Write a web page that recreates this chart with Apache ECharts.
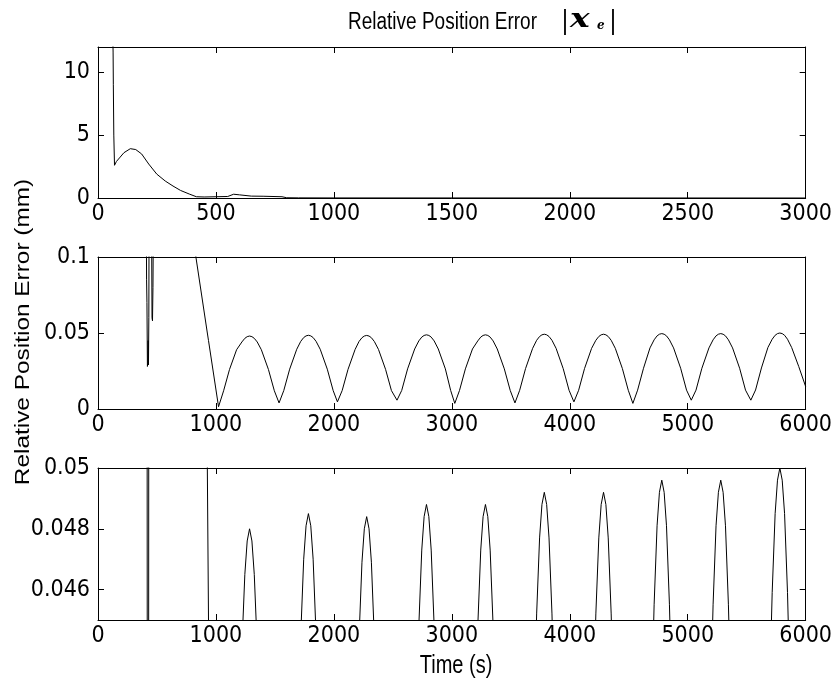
<!DOCTYPE html>
<html>
<head>
<meta charset="utf-8">
<script src="https://cdn.jsdelivr.net/npm/echarts@6/dist/echarts.min.js"></script>
<style>html,body{margin:0;padding:0;background:#fff}#c{width:835px;height:681px}</style>
</head>
<body>
<div id="c"></div>
<script>
// ---- tick labels ----
const xTicksShort = [0, 500, 1000, 1500, 2000, 2500, 3000];
const xTicksLong = [0, 1000, 2000, 3000, 4000, 5000, 6000];
const yTicksTop = [0, 5, 10];
const yTicksMid = [0, 0.05, 0.1];
const yTicksLow = [0.046, 0.048, 0.05];

// ---- top panel: |x_e| over 0..3000 s (mm) ----
const errCoarse = [
  [0, 30], [60, 14], [63, 12.6], [64, 11.6], [65, 9], [67, 5], [70, 2.6], [72, 2.5],
  [78, 2.9], [94, 3.25], [110, 3.6], [137, 3.92], [160, 3.85], [185, 3.5], [215, 2.7],
  [249, 1.9], [285, 1.35], [318, 0.95], [350, 0.6], [389, 0.3], [417, 0.1], [450, 0.08],
  [500, 0.1], [550, 0.12], [575, 0.3], [600, 0.25], [650, 0.15], [700, 0.14], [780, 0.1],
  [800, 0.02], [850, 0.01], [1000, 0.005], [3000, 0.0]
];

// ---- middle / bottom panels: |x_e| over 0..6000 s (mm) ----
const errEarly = [
  [0, 12], [60, 10], [100, 3.5], [300, 0.8], [400, 0.13], [410, 0.12], [412, 0.085],
  [415, 0.07], [419, 0.028], [422, 0.03], [425, 0.045], [428, 0.029], [431, 0.06],
  [433, 0.12], [450, 0.13], [455, 0.11], [458, 0.06], [462, 0.058], [466, 0.08],
  [470, 0.13], [500, 0.15], [600, 0.3], [700, 0.2], [800, 0.12], [830, 0.1],
  [927, 0.05], [937, 0.045], [1022, 0.0015]
];
const errArches = [
  [1065, 0.012], [1115, 0.026], [1175, 0.039], [1220, 0.0441], [1245, 0.0465], [1265, 0.0476],
  [1285, 0.048], [1305, 0.0476], [1325, 0.0465], [1350, 0.0441], [1385, 0.039], [1445, 0.026],
  [1495, 0.012], [1535, 0.004],
  [1575, 0.0121], [1625, 0.0262], [1685, 0.0393], [1719, 0.0445], [1744, 0.047], [1764, 0.0481],
  [1784, 0.0485], [1804, 0.0481], [1824, 0.047], [1849, 0.0445], [1884, 0.0393], [1944, 0.0262],
  [1994, 0.0121], [2030, 0.0047],
  [2070, 0.0121], [2120, 0.0261], [2180, 0.0392], [2213, 0.0444], [2238, 0.0469], [2258, 0.048],
  [2278, 0.0484], [2298, 0.048], [2318, 0.0469], [2343, 0.0444], [2378, 0.0392], [2438, 0.0261],
  [2488, 0.0121], [2535, 0.0058],
  [2575, 0.0122], [2625, 0.0264], [2685, 0.0395], [2720, 0.0448], [2745, 0.0473], [2765, 0.0484],
  [2785, 0.0488], [2805, 0.0484], [2825, 0.0473], [2850, 0.0448], [2885, 0.0395], [2945, 0.0264],
  [2990, 0.0122], [3025, 0.0037],
  [3065, 0.0122], [3115, 0.0264], [3175, 0.0395], [3220, 0.0448], [3245, 0.0473], [3265, 0.0484],
  [3285, 0.0488], [3305, 0.0484], [3325, 0.0473], [3350, 0.0448], [3385, 0.0395], [3445, 0.0264],
  [3495, 0.0122], [3535, 0.004],
  [3575, 0.0123], [3625, 0.0266], [3685, 0.0399], [3719, 0.0452], [3744, 0.0477], [3764, 0.0488],
  [3784, 0.0492], [3804, 0.0488], [3824, 0.0477], [3849, 0.0452], [3884, 0.0399], [3944, 0.0266],
  [3994, 0.0123], [4035, 0.0047],
  [4075, 0.0123], [4125, 0.0266], [4185, 0.0399], [4221, 0.0452], [4246, 0.0477], [4266, 0.0488],
  [4286, 0.0492], [4306, 0.0488], [4326, 0.0477], [4351, 0.0452], [4386, 0.0399], [4446, 0.0266],
  [4496, 0.0123], [4535, 0.0037],
  [4575, 0.0124], [4625, 0.0268], [4680, 0.0402], [4715, 0.0455], [4740, 0.0481], [4760, 0.0492],
  [4780, 0.0496], [4800, 0.0492], [4820, 0.0481], [4845, 0.0455], [4880, 0.0402], [4940, 0.0268],
  [4990, 0.0124], [5030, 0.0058],
  [5070, 0.0124], [5120, 0.0268], [5180, 0.0402], [5215, 0.0455], [5240, 0.0481], [5260, 0.0492],
  [5280, 0.0496], [5300, 0.0492], [5320, 0.0481], [5345, 0.0455], [5380, 0.0402], [5440, 0.0268],
  [5490, 0.0124], [5535, 0.0058],
  [5575, 0.0125], [5625, 0.027], [5680, 0.0405], [5716, 0.0459], [5741, 0.0485], [5761, 0.0496],
  [5781, 0.05], [5801, 0.0496], [5821, 0.0485], [5846, 0.0459], [5881, 0.0405], [5941, 0.028],
  [6000, 0.0147]
];

const panels = [
  { top: 47, height: 151, xMax: 3000, xTicks: xTicksShort, yMin: 0, yMax: 12, yTicks: yTicksTop },
  { top: 257, height: 152, xMax: 6000, xTicks: xTicksLong, yMin: 0, yMax: 0.1, yTicks: yTicksMid },
  { top: 468, height: 152, xMax: 6000, xTicks: xTicksLong, yMin: 0.045, yMax: 0.05, yTicks: yTicksLow }
];

const TICKFONT = "'Liberation Sans Narrow', 'DejaVu Sans Condensed', 'Liberation Sans', Arial, sans-serif";
const line = { lineStyle: { color: '#000', width: 1 } };
const tick = (vals) => ({ show: true, inside: true, length: 6, customValues: vals, lineStyle: { color: '#000', width: 1 } });
const plain = (v) => String(v);

const grid = [], xAxis = [], yAxis = [];
panels.forEach((p, i) => {
  grid.push({ left: 98, top: p.top, width: 713, height: p.height, containLabel: false });
  xAxis.push({
    type: 'value', gridIndex: i, position: 'bottom', min: 0, max: p.xMax,
    axisLine: { show: true, onZero: false, ...line }, axisTick: tick(p.xTicks),
    axisLabel: { show: true, customValues: p.xTicks, formatter: plain, color: '#000', fontFamily: TICKFONT, fontSize: 23, margin: 5 },
    splitLine: { show: false }
  });
  xAxis.push({
    type: 'value', gridIndex: i, position: 'top', min: 0, max: p.xMax,
    axisLine: { show: true, onZero: false, ...line }, axisTick: tick(p.xTicks),
    axisLabel: { show: false }, splitLine: { show: false }
  });
  yAxis.push({
    type: 'value', gridIndex: i, position: 'left', min: p.yMin, max: p.yMax,
    axisLine: { show: true, onZero: false, ...line }, axisTick: tick(p.yTicks),
    axisLabel: { show: true, customValues: p.yTicks, formatter: plain, color: '#000', fontFamily: TICKFONT, fontSize: 23, margin: 8 },
    splitLine: { show: false }
  });
  yAxis.push({
    type: 'value', gridIndex: i, position: 'right', min: p.yMin, max: p.yMax,
    axisLine: { show: true, onZero: false, ...line }, axisTick: tick(p.yTicks),
    axisLabel: { show: false }, splitLine: { show: false }
  });
});

const fine = errEarly.concat(errArches);
const mk = (i, data) => ({
  type: 'line', xAxisIndex: i * 2, yAxisIndex: i * 2, data: data,
  showSymbol: false, symbol: 'none', clip: true, lineStyle: { color: '#000', width: 1 },
  emphasis: { disabled: true }
});

const chart = echarts.init(document.getElementById('c'), null, { renderer: 'canvas' });
chart.setOption({
  animation: false,
  backgroundColor: '#fff',
  grid, xAxis, yAxis,
  series: [mk(0, errCoarse), mk(1, fine), mk(2, fine)],
  graphic: [
    { type: 'text', x: 348, y: 22, scaleY: 1.27, style: { text: 'Relative Position Error', font: "19px 'Liberation Sans', Arial, sans-serif", fill: '#000', align: 'left', verticalAlign: 'middle' } },
    { type: 'text', x: 562, y: 21, scaleY: 1.2, style: { text: '|', font: "23px 'Liberation Sans', Arial, sans-serif", fill: '#000', align: 'left', verticalAlign: 'middle' } },
    { type: 'text', x: 570, y: 20, scaleX: 1.5, scaleY: 1.15, style: { text: 'x', font: "bold italic 22px 'DejaVu Serif', serif", fill: '#000', align: 'left', verticalAlign: 'middle' } },
    { type: 'text', x: 597, y: 26, style: { text: 'e', font: "bold italic 12px 'DejaVu Serif', serif", fill: '#000', align: 'left', verticalAlign: 'middle' } },
    { type: 'text', x: 610, y: 21, scaleY: 1.2, style: { text: '|', font: "23px 'Liberation Sans', Arial, sans-serif", fill: '#000', align: 'left', verticalAlign: 'middle' } },
    { type: 'text', x: 456, y: 666, scaleY: 1.27, style: { text: 'Time (s)', font: "20px 'Liberation Sans', Arial, sans-serif", fill: '#000', align: 'center', verticalAlign: 'middle' } },
    { type: 'text', x: 23, y: 332, rotation: Math.PI / 2, scaleX: 1.22, style: { text: 'Relative Position Error (mm)', font: "20px 'Liberation Sans', Arial, sans-serif", fill: '#000', align: 'center', verticalAlign: 'middle' } }
  ]
});
</script>
</body>
</html>
